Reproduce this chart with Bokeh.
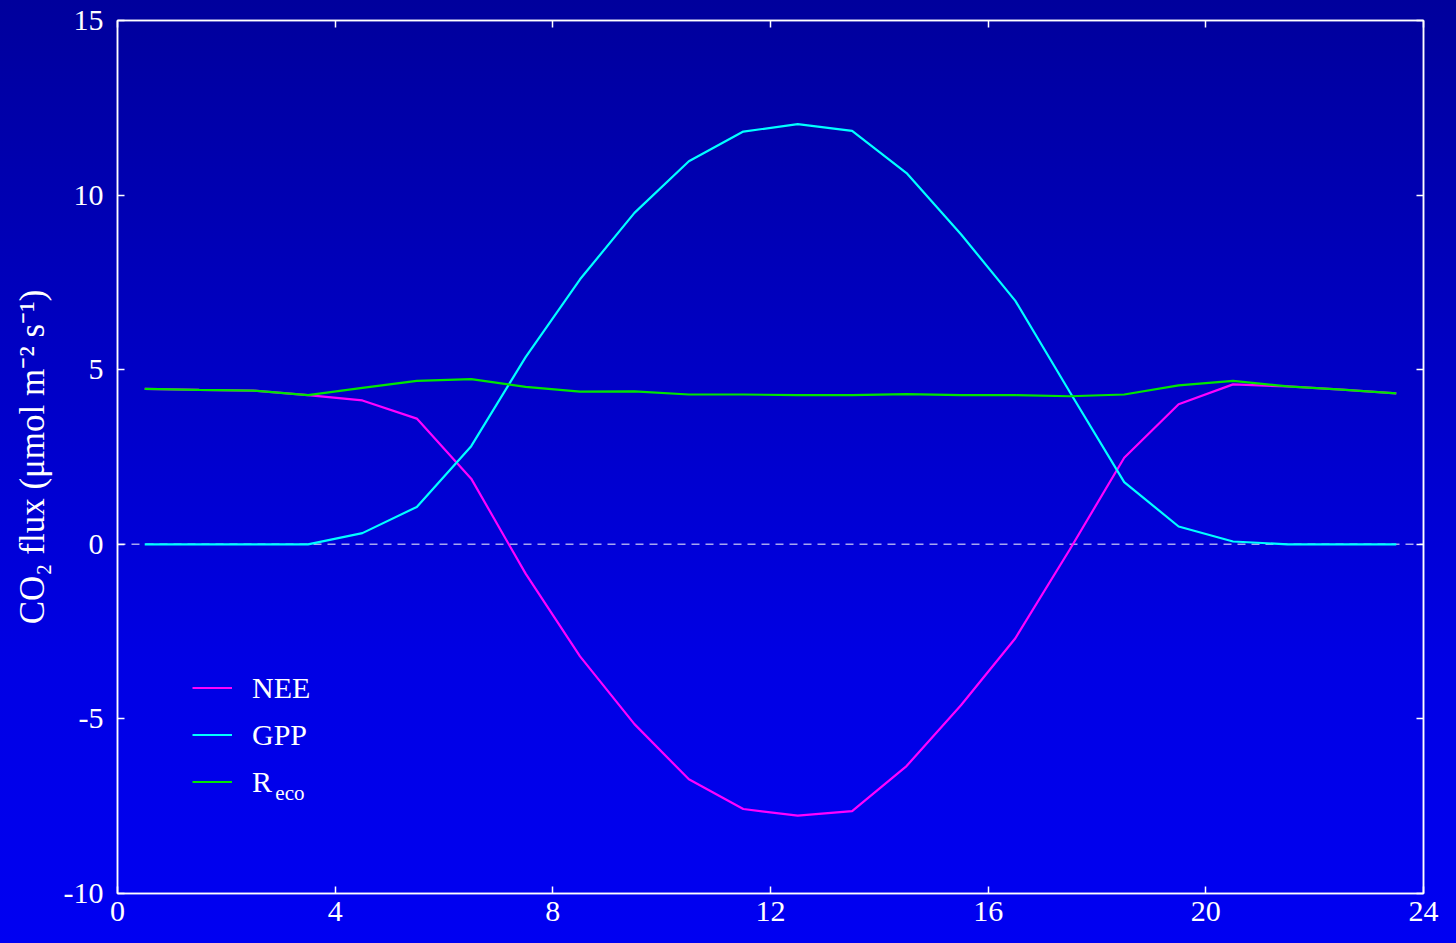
from bokeh.plotting import figure
from bokeh.models import (Range1d, LinearAxis, FixedTicker, Span, Legend, LegendItem, Label,
                          ColumnDataSource, CustomJSTickFormatter, GlobalInlineStyleSheet)
from bokeh.embed import file_html
from bokeh.resources import INLINE

# ---- data ----
hours = [0.5, 1.5, 2.5, 3.5, 4.5, 5.5, 6.5, 7.5, 8.5, 9.5, 10.5, 11.5,
         12.5, 13.5, 14.5, 15.5, 16.5, 17.5, 18.5, 19.5, 20.5, 21.5, 22.5, 23.5]
nee = [4.45, 4.42, 4.40, 4.27, 4.12, 3.60, 1.88, -0.84, -3.21, -5.15, -6.73, -7.58,
       -7.77, -7.64, -6.35, -4.61, -2.69, -0.15, 2.48, 4.01, 4.58, 4.52, 4.43, 4.32]
gpp = [0.0, 0.0, 0.0, 0.0, 0.32, 1.07, 2.81, 5.36, 7.59, 9.49, 10.97, 11.82,
       12.03, 11.84, 10.63, 8.88, 6.97, 4.36, 1.78, 0.51, 0.08, 0.0, 0.0, 0.0]
reco = [4.45, 4.42, 4.40, 4.27, 4.48, 4.68, 4.73, 4.51, 4.37, 4.38, 4.29, 4.29,
        4.27, 4.27, 4.30, 4.27, 4.27, 4.24, 4.29, 4.55, 4.68, 4.52, 4.43, 4.32]
x_ticks = [0, 4, 8, 12, 16, 20, 24]
y_ticks = [-10, -5, 0, 5, 10, 15]

FONT = "Liberation Serif"
FS = "30px"

src = ColumnDataSource(dict(h=hours, nee=nee, gpp=gpp, reco=reco))

p = figure(width=1456, height=943, x_range=Range1d(0, 24), y_range=Range1d(-10, 15),
           output_backend="svg", toolbar_location=None,
           min_border_left=117, min_border_right=33, min_border_top=20, min_border_bottom=50)

p.background_fill_alpha = 0
p.border_fill_alpha = 0
p.outline_line_color = "white"
p.outline_line_width = 1.5
p.grid.visible = False

p.stylesheets = [GlobalInlineStyleSheet(css=(
    "html { background: linear-gradient(to bottom, #00009c 0%, #0000c6 40%, #0000e4 70%, #0000f2 100%) fixed;"
    " min-height: 100%; } body { background: transparent; margin: 0; overflow: hidden; }"))]

zero = Span(location=0, dimension="width", line_color="white", line_alpha=0.65,
            line_width=1.6, line_dash="8 6", level="underlay")
p.add_layout(zero)

r_nee = p.line("h", "nee", source=src, line_color="#ff00ff", line_width=2.2)
r_gpp = p.line("h", "gpp", source=src, line_color="#00ffff", line_width=2.2)
r_reco = p.line("h", "reco", source=src, line_color="#00e600", line_width=2.2)

bottom = p.below[0]
left = p.left[0]
top = LinearAxis()
right = LinearAxis()
p.add_layout(top, "above")
p.add_layout(right, "right")

for ax, ticks in ((bottom, x_ticks), (top, x_ticks), (left, y_ticks), (right, y_ticks)):
    ax.ticker = FixedTicker(ticks=ticks)
    ax.axis_line_color = "white"
    ax.axis_line_width = 1.5
    ax.major_tick_line_color = "white"
    ax.major_tick_line_width = 1.5
    ax.major_tick_in = 7
    ax.major_tick_out = 0
    ax.minor_tick_line_color = None
    ax.major_label_text_color = "white"
    ax.major_label_text_font = FONT
    ax.major_label_text_font_size = FS

for ax in (bottom, left):
    ax.formatter = CustomJSTickFormatter(code="return tick.toString()")

for ax in (top, right):
    ax.formatter = CustomJSTickFormatter(code="return ''")
    ax.major_label_standoff = 0

bottom.major_label_standoff = 8
left.major_label_standoff = 14
left.axis_label = "CO\u2082 flux (\u03bcmol m\u207b\u00b2 s\u207b\u00b9)"
left.axis_label_text_color = "white"
left.axis_label_text_font = FONT
left.axis_label_text_font_size = "35px"
left.axis_label_text_font_style = "normal"
left.axis_label_standoff = 9

legend = Legend(items=[LegendItem(label="NEE", renderers=[r_nee]),
                       LegendItem(label="GPP", renderers=[r_gpp]),
                       LegendItem(label="R", renderers=[r_reco])],
                location=(75, 88), background_fill_alpha=0, border_line_color=None,
                label_text_color="white", label_text_font=FONT, label_text_font_size=FS,
                glyph_width=40, glyph_height=47, label_height=47, spacing=0,
                padding=0, margin=0, label_standoff=20)
p.add_layout(legend)

sub = Label(x=2.9, y=-7.11, text="eco", text_color="white", text_font=FONT,
            text_font_size="21px", text_baseline="alphabetic")
p.add_layout(sub)

open("out.html", "w").write(file_html(p, INLINE))
